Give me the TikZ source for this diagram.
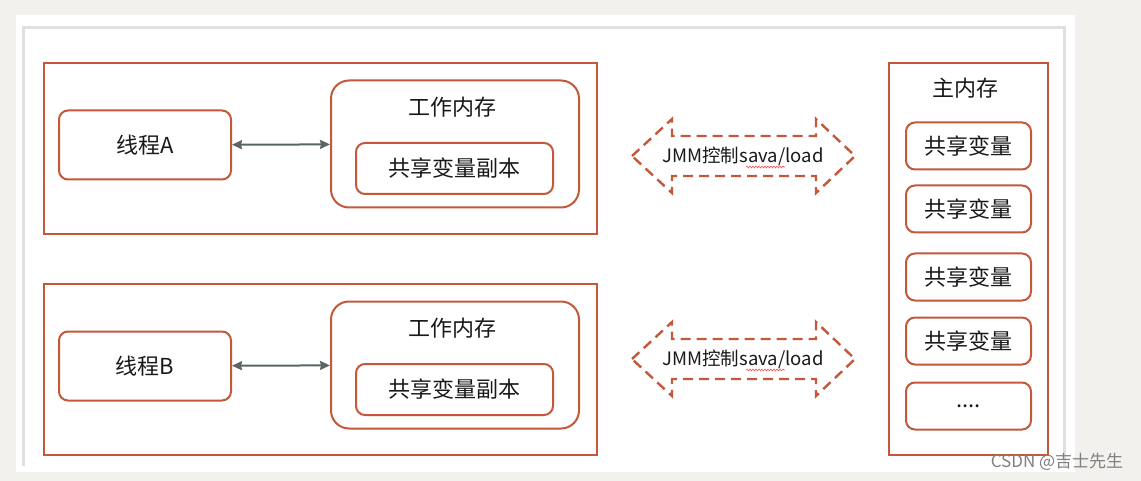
\documentclass[tikz,border=0pt]{standalone}
\usepackage{fontspec}
\setmainfont{Noto Sans CJK SC}
\usetikzlibrary{arrows.meta,decorations.pathmorphing}
\definecolor{brick}{HTML}{C3583B}
\definecolor{slate}{HTML}{5A6466}
\definecolor{paper}{HTML}{F2F1EE}
\begin{document}
\begin{tikzpicture}[x=1pt,y=-1pt,
  frame/.style={draw=brick,line width=2pt},
  rbox/.style={draw=brick,line width=2pt,rounded corners=9pt,fill=white,
    font=\fontsize{22}{22}\selectfont,text=black!90},
  twoway/.style={{Stealth[length=10pt,width=9pt,inset=1pt]}-{Stealth[length=10pt,width=9pt,inset=1pt]},
    draw=slate,line width=2pt},
  flow/.style={draw=brick,line width=2.4pt,dash pattern=on 10pt off 6pt}]
\useasboundingbox (0,0) rectangle (1141,481);
% background and panel
\fill[paper] (0,0) rectangle (1141,481);
\fill[white] (16,15) rectangle (1075,472);
\draw[black!12,line width=3pt] (23,466) -- (23,28) -- (1064,28) -- (1064,466);
% thread rows
\foreach \n/\y/\t in {a/0/A,b/221/B} {
  \draw[frame] (44,63+\y) rectangle (597,234+\y);
  \node[rbox,minimum width=172pt,minimum height=69pt] (thread\n) at (145,145+\y) {线程\t};
  \node[rbox,rounded corners=18pt,minimum width=248pt,minimum height=127pt] (work\n) at (455,144+\y) {};
  \node[font=\fontsize{22}{22}\selectfont,text=black!90] (worklabel\n) at (452,107+\y) {工作内存};
  \node[rbox,minimum width=197pt,minimum height=51pt] (copy\n) at (454.5,168.5+\y) {共享变量副本};
  \draw[twoway] (thread\n) -- (work\n);
}
% save/load arrows
\foreach \n/\y in {a/156,b/359} {
  \draw[flow] (632,\y) -- (672,\y-37) -- (672,\y-20) -- (816,\y-20) -- (816,\y-37)
    -- (855,\y) -- (816,\y+37) -- (816,\y+20) -- (672,\y+20) -- (672,\y+37) -- cycle;
  \node[font=\fontsize{18.5}{18.5}\selectfont,text=black!90] (jmm\n) at (743,\y) {JMM控制sava/load};
  \draw[red!70,line width=0.6pt,decorate,decoration={snake,amplitude=0.9pt,segment length=3pt}]
    (746,\y+11) -- (785,\y+11);
}
% main memory
\draw[frame] (889,63) rectangle (1048,455);
\node[font=\fontsize{22}{22}\selectfont,text=black!90] (mainlabel) at (965,88) {主内存};
\foreach \i/\y/\t in {1/146/共享变量,2/209/共享变量,3/277/共享变量,4/341/共享变量,5/406/{....}} {
  \node[rbox,minimum width=125pt,minimum height=47pt] (var\i) at (968.5,\y) {\t};
}
\node[font=\fontsize{17}{17}\selectfont,text=black!50] (mark) at (1057,462) {CSDN @吉士先生};
\end{tikzpicture}
\end{document}
